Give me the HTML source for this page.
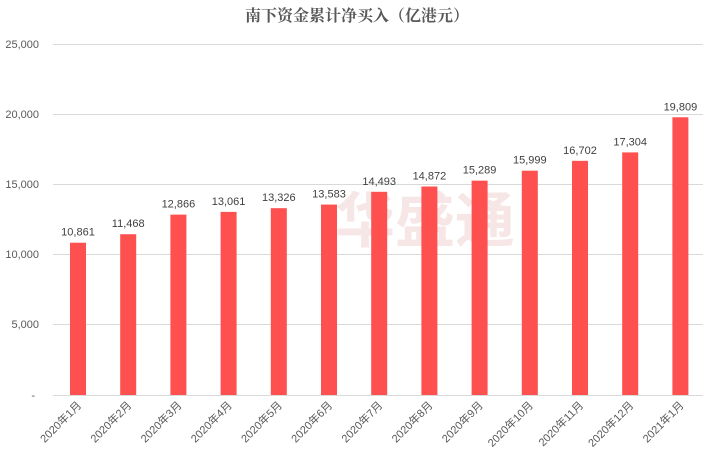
<!DOCTYPE html>
<html><head><meta charset="utf-8"><style>
body{margin:0;background:#fff;}
svg text{font-family:"Liberation Sans","Noto Sans CJK SC",sans-serif;}
</style></head><body>
<svg width="715" height="463" xmlns="http://www.w3.org/2000/svg">
<rect width="715" height="463" fill="#fff"/>
<text x="357" y="21" text-anchor="middle" font-size="16" font-weight="bold" fill="#595959" style="font-family:'Liberation Serif','Noto Serif CJK SC',serif">南下资金累计净买入（亿港元）</text>
<g stroke="#d9d9d9" stroke-width="1">
<line x1="53" x2="703" y1="44.5" y2="44.5"/>
<line x1="53" x2="703" y1="114.5" y2="114.5"/>
<line x1="53" x2="703" y1="184.5" y2="184.5"/>
<line x1="53" x2="703" y1="254.5" y2="254.5"/>
<line x1="53" x2="703" y1="324.5" y2="324.5"/>
<line x1="53" x2="703" y1="395.5" y2="395.5"/>
</g>
<g font-size="11" fill="#595959" text-anchor="end">
<text x="39" y="48">25,000</text>
<text x="39" y="118">20,000</text>
<text x="39" y="188">15,000</text>
<text x="39" y="258">10,000</text>
<text x="39" y="328">5,000</text>
<text x="35" y="399">-</text>
</g>
<text x="425" y="242" text-anchor="middle" font-size="60" font-weight="bold" fill="#f3d6d6" opacity="0.6">华盛通</text>
<g fill="#ff5050" id="bars"></g>
<g id="lbl" font-size="11" fill="#404040" text-anchor="middle"></g>
<g id="xl" font-size="11" fill="#595959" text-anchor="end"></g>
<script>
var v=[10861,11468,12866,13061,13326,13583,14493,14872,15289,15999,16702,17304,19809];
var n=["2020年1月","2020年2月","2020年3月","2020年4月","2020年5月","2020年6月","2020年7月","2020年8月","2020年9月","2020年10月","2020年11月","2020年12月","2021年1月"];
var ns="http://www.w3.org/2000/svg";
for(var i=0;i<13;i++){
var cx=78+i*50.2,h=v[i]*350.5/25000,y=395-h;
var r=document.createElementNS(ns,"rect");r.setAttribute("x",cx-8);r.setAttribute("y",y);r.setAttribute("width",16);r.setAttribute("height",h);document.getElementById("bars").appendChild(r);
var t=document.createElementNS(ns,"text");t.setAttribute("x",cx);t.setAttribute("y",y-7);t.textContent=v[i].toLocaleString("en-US");document.getElementById("lbl").appendChild(t);
var l=document.createElementNS(ns,"text");l.setAttribute("transform","translate("+(cx+4)+",406) rotate(-45)");l.textContent=n[i];document.getElementById("xl").appendChild(l);
}
</script>
</svg>
</body></html>
